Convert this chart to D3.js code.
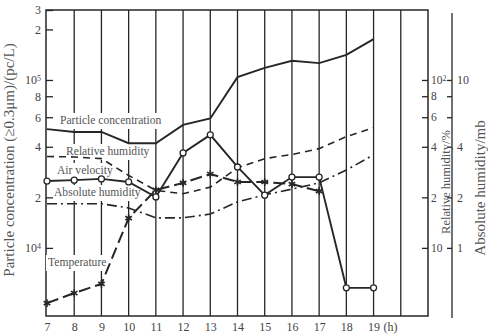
<!DOCTYPE html>
<html>
<head>
<meta charset="utf-8">
<script src="https://cdn.jsdelivr.net/npm/d3@7"></script>
<style>
body { margin: 0; background: #fff; }
svg text { font-family: "Liberation Serif", "Times New Roman", serif; }
</style>
</head>
<body>
<svg id="chart" width="488" height="335"></svg>
<script>
// hours of the day
var hours = [7, 8, 9, 10, 11, 12, 13, 14, 15, 16, 17, 18, 19];
var tempHours = [7, 8, 9, 10, 11, 12, 13, 14, 15, 16, 17];
var gridHours = [8, 9, 10, 11, 12, 13, 14, 15, 16, 17, 18, 19, 20];

// particle concentration, pc/L (left axis)
var particleConc = [51000, 49000, 49000, 42000, 42000, 54000, 59000, 104000, 118000, 130000, 126000, 141000, 175000];
// relative humidity, % (right axis)
var relHumidity = [35, 34.8, 34, 27, 22, 21, 23, 30, 34, 36, 39, 46, 52];
// absolute humidity, mb (outer right axis)
var absHumidity = [1.83, 1.83, 1.83, 1.73, 1.51, 1.51, 1.59, 1.88, 2.07, 2.24, 2.44, 2.91, 3.58];
// no axis drawn for these two: relative height in the plot (0 = bottom, 1 = top)
var airVelocity = [0.441, 0.444, 0.448, 0.438, 0.389, 0.533, 0.592, 0.487, 0.395, 0.454, 0.454, 0.092, 0.092];
var temperature = [0.042, 0.075, 0.105, 0.320, 0.412, 0.435, 0.464, 0.438, 0.438, 0.431, 0.408];

// tick values and labels
var leftTicks = [1e4, 2e4, 4e4, 6e4, 8e4, 1e5, 2e5, 3e5];
var leftTickLabels = ["10^4", "2", "4", "6", "8", "10^5", "2", "3"];
var rhTicks = [10, 20, 40, 60, 80, 100];
var rhTickLabels = ["10", "2", "4", "6", "8", "10^2"];
var ahTicks = [1, 2, 4, 6, 8, 10];
var ahTickLabels = ["1", "2", "4", "6", "8", "10"];

var labels = [
    { text: "Particle concentration", x: 60, y: 124 },
    { text: "Relative humidity", x: 66, y: 155 },
    { text: "Air velocity", x: 57, y: 174 },
    { text: "Absolute humidity", x: 54, y: 196 },
    { text: "Temperature", x: 48, y: 266 }
];

var top_ = 10, bottom = 316, left = 46, right = 428;
var ink = "#262626";

var xScale = d3.scaleLinear().domain([7, 21]).range([47, right]);
var yPC = d3.scaleLog().domain([3930, 261000]).range([bottom, top_]).clamp(true);
var yRH = d3.scaleLog().domain([3.93, 261]).range([bottom, top_]);
var yAH = d3.scaleLog().domain([0.393, 26.1]).range([bottom, top_]);
var yRel = d3.scaleLinear().domain([0, 1]).range([bottom, top_]);

const svg = d3.select('#chart');

// puts "10^5" as 10 with superscript
function supLabel(sel, labelArr) {
    sel.each(function (d, i) {
        var t = d3.select(this);
        var parts = labelArr[i].split("^");
        t.text(null);
        t.append("tspan").text(parts[0]);
        if (parts.length > 1) {
            t.append("tspan").attr("dy", "-0.45em").attr("font-size", "8px").text(parts[1]);
        }
    });
}

// vertical grid lines
svg.append('g').selectAll('line')
    .data(gridHours)
    .enter()
    .append('line')
    .attr('x1', d => xScale(d)).attr('x2', d => xScale(d))
    .attr('y1', top_).attr('y2', bottom)
    .attr('stroke', ink).attr('stroke-width', 1.3);

// frame
svg.append('rect')
    .attr('x', left).attr('y', top_)
    .attr('width', right - left).attr('height', bottom - top_)
    .attr('fill', 'none').attr('stroke', ink).attr('stroke-width', 1.5);

// label boxes hide the grid
var labelG = svg.append('g');
labels.forEach(function (l) {
    var t = labelG.append('text')
        .attr('x', l.x).attr('y', l.y)
        .attr('font-size', '11.6px')
        .attr('fill', '#555')
        .text(l.text);
    var bb = t.node().getBBox();
    labelG.insert('rect', 'text')
        .attr('x', bb.x - 2).attr('y', bb.y - 1)
        .attr('width', bb.width + 4).attr('height', bb.height + 3)
        .attr('fill', '#fff');
});

// left axis
let axisLeft = d3.axisLeft(yPC).tickValues(leftTicks).tickSizeInner(-7).tickSizeOuter(0).tickPadding(5);
var gl = svg.append('g').attr('transform', 'translate(' + left + ',0)').call(axisLeft);
gl.select('.domain').remove();
gl.selectAll('line').attr('stroke', ink).attr('stroke-width', 1.3);
gl.selectAll('text').attr('font-size', '12px').attr('fill', '#444').call(supLabel, leftTickLabels);

// bottom axis
let axisBottom = d3.axisBottom(xScale).tickValues(hours).tickSize(0).tickPadding(6);
var gb = svg.append('g').attr('transform', 'translate(0,' + bottom + ')').call(axisBottom);
gb.select('.domain').remove();
gb.selectAll('text').attr('font-size', '12px').attr('fill', '#444');
svg.append('text').attr('x', xScale(19) + 10).attr('y', bottom + 15)
    .attr('font-size', '12px').attr('fill', '#444').text('(h)');

// relative humidity axis, on the right border
let axisRH = d3.axisRight(yRH).tickValues(rhTicks).tickSizeInner(-6).tickSizeOuter(0).tickPadding(3);
var gr = svg.append('g').attr('transform', 'translate(' + right + ',0)').call(axisRH);
gr.select('.domain').remove();
gr.selectAll('line').attr('stroke', ink).attr('stroke-width', 1.3);
gr.selectAll('text').attr('font-size', '11.5px').attr('fill', '#444').call(supLabel, rhTickLabels);

// absolute humidity axis
var ahX = 452;
svg.append('line').attr('x1', ahX).attr('x2', ahX).attr('y1', 13).attr('y2', 318)
    .attr('stroke', ink).attr('stroke-width', 1.3);
let axisAH = d3.axisRight(yAH).tickValues(ahTicks).tickSizeInner(-5).tickSizeOuter(0).tickPadding(5);
var ga = svg.append('g').attr('transform', 'translate(' + ahX + ',0)').call(axisAH);
ga.select('.domain').remove();
ga.selectAll('line').attr('stroke', ink).attr('stroke-width', 1.3);
ga.selectAll('text').attr('font-size', '12px').attr('fill', '#444');

// axis titles
svg.append('text').attr('transform', 'translate(14,160) rotate(-90)')
    .attr('text-anchor', 'middle').attr('font-size', '15px').attr('fill', '#555')
    .text('Particle concentration (\u22650.3\u03bcm)/(pc/L)');
svg.append('text').attr('transform', 'translate(449.5,182) rotate(-90)')
    .attr('text-anchor', 'middle').attr('font-size', '12.5px').attr('fill', '#555')
    .text('Relative humidity/%');
svg.append('text').attr('transform', 'translate(485,188) rotate(-90)')
    .attr('text-anchor', 'middle').attr('font-size', '15px').attr('fill', '#555')
    .text('Absolute humidity/mb');

// series
function drawLine(xs, ys, yScale, dash, width) {
    var pts = xs.map((h, i) => [xScale(h), yScale(ys[i])]);
    svg.append('path')
        .attr('d', d3.line()(pts))
        .attr('fill', 'none')
        .attr('stroke', ink)
        .attr('stroke-width', width)
        .attr('stroke-dasharray', dash);
    return pts;
}

drawLine(hours, particleConc, yPC, null, 1.9);
drawLine(hours, relHumidity, yRH, '7,5', 1.6);
drawLine(hours, absHumidity, yAH, '10,4,2,4', 1.6);
var tempPts = drawLine(tempHours, temperature, yRel, '12,5', 2);
var avPts = drawLine(hours, airVelocity, yRel, null, 1.9);

svg.append('g').selectAll('path')
    .data(tempPts)
    .enter()
    .append('path')
    .attr('d', d3.symbol().type(d3.symbolAsterisk).size(40))
    .attr('transform', d => 'translate(' + d[0] + ',' + d[1] + ')')
    .attr('stroke', ink).attr('stroke-width', 1.6).attr('fill', 'none');

svg.append('g').selectAll('circle')
    .data(avPts)
    .enter()
    .append('circle')
    .attr('cx', d => d[0]).attr('cy', d => d[1]).attr('r', 3)
    .attr('fill', '#fff').attr('stroke', ink).attr('stroke-width', 1.3);
</script>
</body>
</html>
